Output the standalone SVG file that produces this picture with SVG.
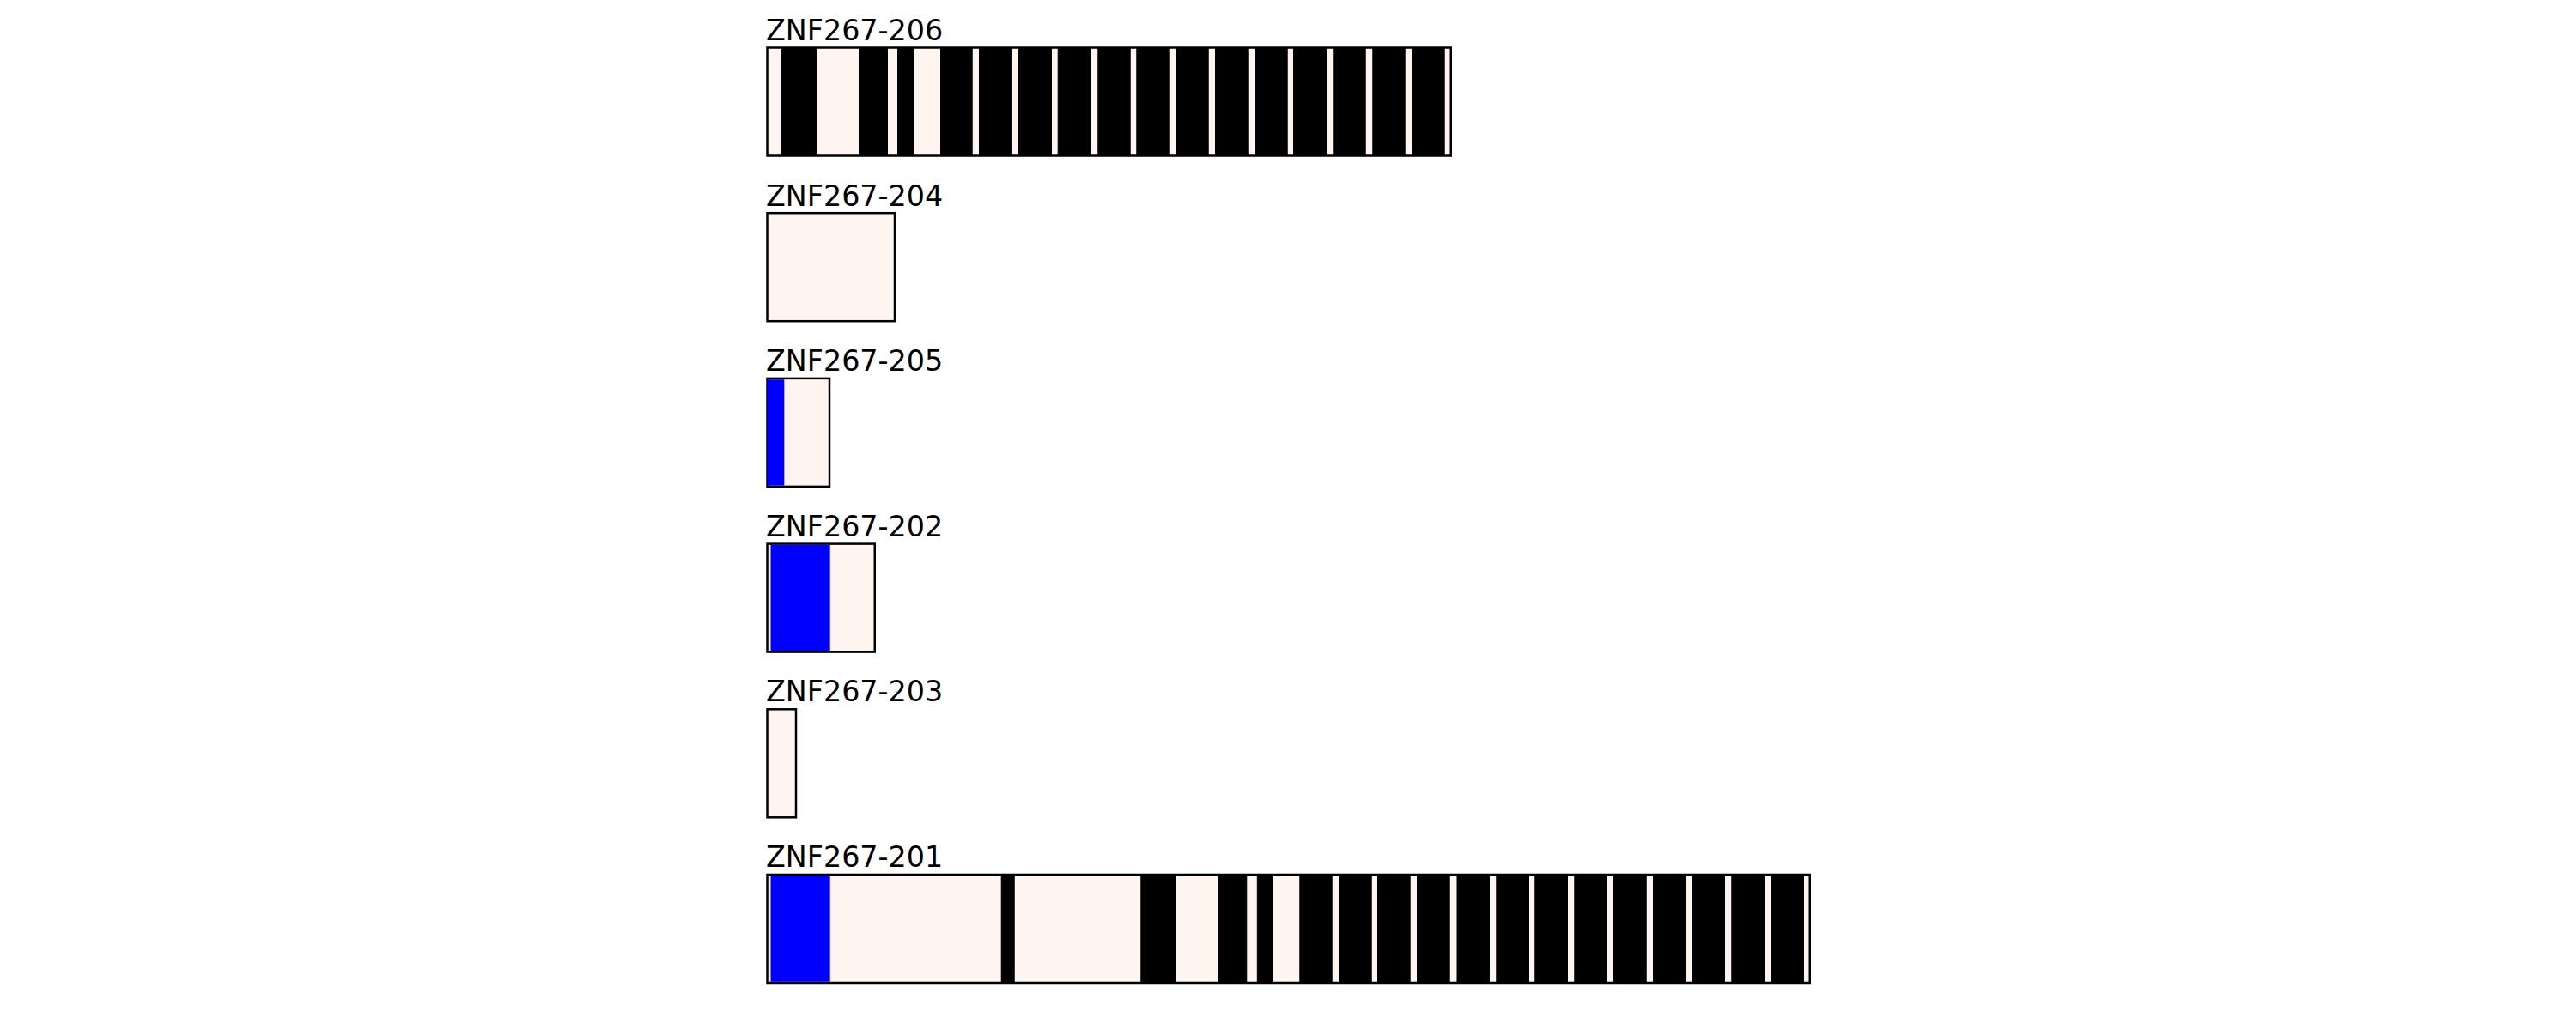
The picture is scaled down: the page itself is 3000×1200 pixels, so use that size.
<svg xmlns="http://www.w3.org/2000/svg" width="3000" height="1200" viewBox="0 0 3000 1200">
<style>
.bg{fill:#ffffff}
.frame{fill:#fff5f0;stroke:#000;stroke-width:2.5}
.exon{fill:#000;stroke:#000;stroke-width:1}
.utr{fill:#0000ff}
.label{font-family:"DejaVu Sans",sans-serif;font-size:33.33px;fill:#000}
</style>
<rect class="bg" x="0" y="0" width="3000" height="1200"/>

<g id="ZNF267-206">
<text class="label" x="892" y="46.5">ZNF267-206</text>
<rect class="frame" x="893.5" y="55.5" width="796.25" height="126"/>
<g transform="translate(0,55.5)">
<rect class="exon" x="910.5" y="0" width="40.7" height="126"/>
<rect class="exon" x="1000.5" y="0" width="33" height="126"/>
<rect class="exon" x="1045.5" y="0" width="19" height="126"/>
<rect class="exon" x="1095.5" y="0" width="36.7" height="126"/>
<rect class="exon" x="1140.5" y="0" width="37.3" height="126"/>
<rect class="exon" x="1186.5" y="0" width="38" height="126"/>
<rect class="exon" x="1232.2" y="0" width="38.3" height="126"/>
<rect class="exon" x="1278.8" y="0" width="37.4" height="126"/>
<rect class="exon" x="1323.8" y="0" width="37.4" height="126"/>
<rect class="exon" x="1369.5" y="0" width="37.7" height="126"/>
<rect class="exon" x="1415.5" y="0" width="37.7" height="126"/>
<rect class="exon" x="1461.5" y="0" width="37.7" height="126"/>
<rect class="exon" x="1506.5" y="0" width="38" height="126"/>
<rect class="exon" x="1552.8" y="0" width="37.4" height="126"/>
<rect class="exon" x="1598.8" y="0" width="37.4" height="126"/>
<rect class="exon" x="1644.5" y="0" width="37.7" height="126"/>
</g>
</g>

<g id="ZNF267-204">
<text class="label" x="892" y="239.5">ZNF267-204</text>
<rect class="frame" x="893.5" y="248.2" width="148.5" height="126"/>
</g>

<g id="ZNF267-205">
<text class="label" x="892" y="432">ZNF267-205</text>
<rect class="frame" x="893.5" y="440.9" width="72.5" height="126"/>
<rect class="utr" x="893.5" y="442.2" width="19.8" height="123.5"/>
</g>

<g id="ZNF267-202">
<text class="label" x="892" y="624.7">ZNF267-202</text>
<rect class="frame" x="893.5" y="633.6" width="125.25" height="126"/>
<rect class="utr" x="897.5" y="634.9" width="69.2" height="123.5"/>
</g>

<g id="ZNF267-203">
<text class="label" x="892" y="817.3">ZNF267-203</text>
<rect class="frame" x="893.5" y="826.3" width="33.5" height="126"/>
</g>

<g id="ZNF267-201">
<text class="label" x="892" y="1010">ZNF267-201</text>
<rect class="frame" x="893.5" y="1019" width="1214.25" height="126"/>
<rect class="utr" x="897.5" y="1020.3" width="69.2" height="123.5"/>
<g transform="translate(0,1019)">
<rect class="exon" x="1166.2" y="0" width="15" height="126"/>
<rect class="exon" x="1328.8" y="0" width="40.7" height="126"/>
<rect class="exon" x="1418.8" y="0" width="33" height="126"/>
<rect class="exon" x="1464.3" y="0" width="18" height="126"/>
<rect class="exon" x="1513.8" y="0" width="37.4" height="126"/>
<rect class="exon" x="1559.5" y="0" width="37.7" height="126"/>
<rect class="exon" x="1604.5" y="0" width="37.7" height="126"/>
<rect class="exon" x="1650.5" y="0" width="37.7" height="126"/>
<rect class="exon" x="1697" y="0" width="37.5" height="126"/>
<rect class="exon" x="1742.8" y="0" width="37.7" height="126"/>
<rect class="exon" x="1787.8" y="0" width="37.7" height="126"/>
<rect class="exon" x="1833.8" y="0" width="37.4" height="126"/>
<rect class="exon" x="1879.5" y="0" width="37.7" height="126"/>
<rect class="exon" x="1925.5" y="0" width="37.7" height="126"/>
<rect class="exon" x="1970.8" y="0" width="37.7" height="126"/>
<rect class="exon" x="2016.8" y="0" width="37.7" height="126"/>
<rect class="exon" x="2062.8" y="0" width="37.7" height="126"/>
</g>
</g>
</svg>
